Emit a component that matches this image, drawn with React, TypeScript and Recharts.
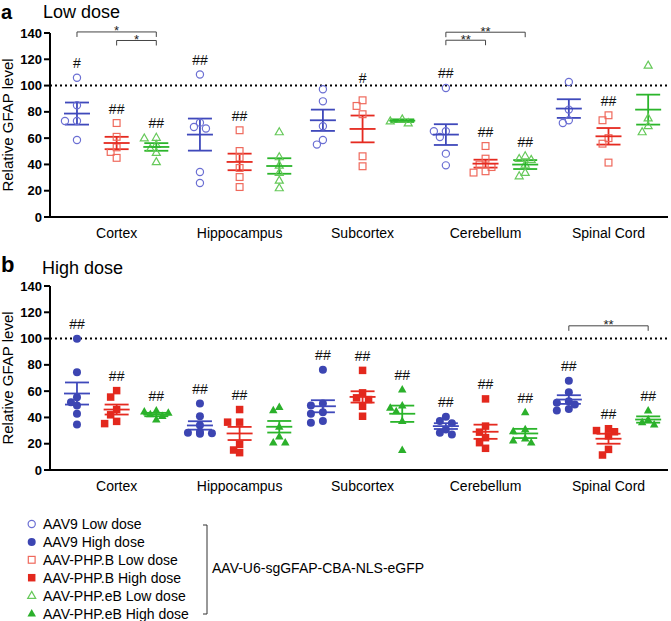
import React from "react";
import { ScatterChart, Scatter, XAxis, YAxis, ReferenceLine, ErrorBar } from "recharts";

const categories = ["Cortex", "Hippocampus", "Subcortex", "Cerebellum", "Spinal Cord"];
const yTicks = [0, 20, 40, 60, 80, 100, 120, 140];

// relative GFAP level per animal, one inner list per region
const aav9Low = [
  [106, 85, 73, 73, 58.6],
  [108.4, 71.8, 68.5, 67.3, 34.2, 25.9],
  [97.2, 88, 69, 58.6, 55.1],
  [98.2, 65.2, 65.2, 60.9, 48.2, 39.3],
  [102.7, 81.7, 73.6, 71.5],
];
const phpBLow = [
  [71.5, 61, 53, 49.5, 45],
  [66, 50.2, 45.2, 37.3, 30.4, 22.8],
  [88.8, 84.5, 78.2, 46.2, 38.6],
  [54, 44.4, 39.9, 38, 34.8, 33.8],
  [77.4, 73.6, 60, 55.8, 41.4],
];
const phpEBLow = [
  [60.5, 60, 55, 52, 49, 42],
  [64.7, 45.7, 39.3, 33.8, 27.9, 22.1],
  [74.5, 73, 71.5],
  [46.4, 44.4, 43.7, 40, 33.8, 31.2],
  [115.4, 75.3, 69.3, 64.7],
];
const aav9High = [
  [99.8, 74.3, 55.3, 51.6, 49, 42.8, 34.6],
  [50.6, 40.9, 34.1, 29, 28.4, 28, 27.5],
  [76.3, 50.6, 49, 44, 42.8, 37.2, 35.9],
  [40.5, 37.2, 35.5, 30.9, 28.4, 27.1],
  [68, 59.1, 52.3, 51.1, 49.8, 46.5, 45.3],
];
const phpBHigh = [
  [60.4, 55.5, 46, 42, 37, 35.3],
  [46, 36.4, 36.4, 19.5, 15.2, 13.2],
  [75.8, 58.7, 54.9, 53.6, 48.5, 40.9],
  [54.1, 33.4, 28.8, 24.6, 20.8, 16.5],
  [31.4, 30, 29.1, 26, 15.7, 11.4],
];
const phpEBHigh = [
  [45.3, 44.5, 43.5, 42.5, 41, 38.5],
  [48, 45.5, 33, 25.5, 21, 21],
  [61.2, 49, 47.3, 44.7, 37.2, 15.2],
  [44, 31, 29.5, 24, 22.5, 21],
  [45.3, 38.4, 36.4, 34.6],
];

// mean and SEM per region
const aav9LowMean = [78.7, 62.7, 73.6, 62.7, 82.5];
const aav9LowSem = [8.4, 12.2, 8.1, 7.9, 7.1];
const phpBLowMean = [56.3, 41.9, 67.0, 40.6, 61.4];
const phpBLowSem = [4.7, 6.3, 10.2, 3.0, 6.3];
const phpEBLowMean = [53.3, 38.8, 73.3, 39.9, 81.7];
const phpEBLowSem = [2.9, 5.9, 1.0, 3.4, 11.4];
const aav9HighMean = [58.2, 33.9, 48.5, 33.4, 53.6];
const aav9HighSem = [8.4, 3.2, 4.6, 2.2, 3.3];
const phpBHighMean = [46.0, 27.8, 55.6, 29.1, 23.8];
const phpBHighSem = [3.8, 5.0, 4.3, 5.4, 3.8];
const phpEBHighMean = [42.2, 32.9, 42.8, 27.8, 38.4];
const phpEBHighSem = [1.3, 4.4, 6.2, 3.5, 2.4];

// significance vs control (#)
const aav9LowSig = ["#", "##", "", "##", ""];
const phpBLowSig = ["##", "##", "#", "##", "##"];
const phpEBLowSig = ["##", "", "", "##", ""];
const aav9HighSig = ["##", "##", "##", "##", "##"];
const phpBHighSig = ["##", "##", "##", "##", "##"];
const phpEBHighSig = ["##", "", "##", "##", "##"];

// between-vector comparisons (*)
const lowBrackets = [
  { region: 0, from: 0, to: 2, y: 140.8, text: "*" },
  { region: 0, from: 1, to: 2, y: 134.3, text: "*" },
  { region: 3, from: 0, to: 2, y: 140.6, text: "**" },
  { region: 3, from: 0, to: 1, y: 134.5, text: "**" },
];
const highBrackets = [{ region: 4, from: 0, to: 2, y: 109.7, text: "**" }];

const legendNames = [
  "AAV9 Low dose",
  "AAV9 High dose",
  "AAV-PHP.B Low dose",
  "AAV-PHP.B High dose",
  "AAV-PHP.eB Low dose",
  "AAV-PHP.eB High dose",
];
const constructName = "AAV-U6-sgGFAP-CBA-NLS-eGFP";

const W = 671;
const CHART_H = 247;
const TOP = 33;
const XAXIS_H = 30;
const YAXIS_W = 50;
const RIGHT = 3;
const PLOT_W = W - YAXIS_W - RIGHT;
const PLOT_H = CHART_H - TOP - XAXIS_H;
const X_DOMAIN = [-0.68, 14.9];
const GROUP_STEP = 3.1;
const X_PX = PLOT_W / (X_DOMAIN[1] - X_DOMAIN[0]);
const Y_PX = PLOT_H / 140;
const catTicks = categories.map((_, i) => i * GROUP_STEP + 1);

const vectorStyles = [
  { kind: "circle", low: "#6b6fd3", high: "#3c45b2", line: "#3f49bb" },
  { kind: "square", low: "#ef695c", high: "#e3281d", line: "#e52a20" },
  { kind: "triangle", low: "#66c95a", high: "#2bb02b", line: "#2bb52b" },
];

function Marker({ cx, cy, kind, color, filled }: any) {
  const fill = filled ? color : "none";
  const sw = filled ? 0 : 1.2;
  if (kind === "circle")
    return <circle cx={cx} cy={cy} r={filled ? 4 : 3.6} fill={fill} stroke={color} strokeWidth={sw} />;
  if (kind === "square") {
    const s = filled ? 7.5 : 6.8;
    return <rect x={cx - s / 2} y={cy - s / 2} width={s} height={s} fill={fill} stroke={color} strokeWidth={sw} />;
  }
  const h = filled ? 7.5 : 7;
  const w = filled ? 8.5 : 8;
  return (
    <path
      d={`M${cx},${cy - h * 0.6}L${cx + w / 2},${cy + h * 0.4}L${cx - w / 2},${cy + h * 0.4}Z`}
      fill={fill}
      stroke={color}
      strokeWidth={sw}
    />
  );
}

// dot-plot layout: a point that would sit on top of another is nudged sideways
function swarm(values: number[], center: number) {
  const sorted = [...values].sort((a, b) => b - a);
  const placed: { dx: number; py: number }[] = [];
  return sorted.map((v) => {
    const py = v * Y_PX;
    let dx = 0;
    for (let k = 0; k < 7; k++) {
      const cand = (k % 2 ? -1 : 1) * Math.ceil(k / 2) * 6;
      if (placed.every((p) => Math.hypot(p.dx - cand, p.py - py) >= 6.5)) {
        dx = cand;
        break;
      }
    }
    placed.push({ dx, py });
    return { x: center + dx / X_PX, y: v };
  });
}

const meanShape = (color: string) => (p: any) =>
  <line x1={p.cx - 13} x2={p.cx + 13} y1={p.cy} y2={p.cy} stroke={color} strokeWidth={1.8} />;

const markShape = (p: any) => (
  <text x={p.cx} y={p.cy + 5} textAnchor="middle" fontSize={14} fill="#111">
    {p.payload.text}
  </text>
);

const bracketShape = (text: string) => (p: any) => (
  <g>
    <path
      d={`M${p.x1},${p.y1 + 5}V${p.y1}H${p.x2}V${p.y2 + 5}`}
      fill="none"
      stroke="#444"
      strokeWidth={1}
    />
    <text x={(p.x1 + p.x2) / 2} y={p.y1 + 3.5} textAnchor="middle" fontSize={13} fill="#222">
      {text}
    </text>
  </g>
);

function Panel({ sets, filled, brackets }: any) {
  const marks: any[] = [];
  sets.forEach((set: any, v: number) => {
    set.sig.forEach((text: string, r: number) => {
      if (!text) return;
      let y = Math.max(...set.values[r]) + 11;
      if (Math.abs(y - 100) < 5) y = 106;
      marks.push({ x: r * GROUP_STEP + v, y, text });
    });
  });

  return (
    <ScatterChart width={W} height={CHART_H} margin={{ top: TOP, right: RIGHT, bottom: 0, left: 0 }}>
      <XAxis
        type="number"
        dataKey="x"
        domain={X_DOMAIN}
        ticks={catTicks}
        interval={0}
        tickFormatter={(t: number) => categories[Math.round((t - 1) / GROUP_STEP)]}
        axisLine={{ stroke: "#000", strokeWidth: 2 }}
        tickLine={false}
        tickSize={0}
        tickMargin={11}
        height={XAXIS_H}
        tick={{ fontSize: 14, fill: "#000" }}
      />
      <YAxis
        type="number"
        dataKey="y"
        domain={[0, 140]}
        ticks={yTicks}
        interval={0}
        width={YAXIS_W}
        axisLine={{ stroke: "#000", strokeWidth: 2 }}
        tickLine={{ stroke: "#000", strokeWidth: 2 }}
        tickSize={6}
        tickMargin={2}
        tick={{ fontSize: 13, fontWeight: 700, fill: "#000" }}
      />
      <ReferenceLine y={100} stroke="#000" strokeWidth={2} strokeDasharray="2 3" />
      {sets.map((set: any, v: number) => {
        const st = vectorStyles[v];
        const color = filled ? st.high : st.low;
        return (
          <Scatter
            key={"p" + v}
            data={set.values.flatMap((vals: number[], r: number) => swarm(vals, r * GROUP_STEP + v))}
            isAnimationActive={false}
            shape={(p: any) => <Marker cx={p.cx} cy={p.cy} kind={st.kind} color={color} filled={filled} />}
          />
        );
      })}
      {sets.map((set: any, v: number) => {
        const st = vectorStyles[v];
        const data = set.mean.map((m: number, r: number) => ({ x: r * GROUP_STEP + v, y: m, sem: set.sem[r] }));
        return (
          <Scatter key={"m" + v} data={data} isAnimationActive={false} shape={meanShape(st.line)}>
            <ErrorBar dataKey="sem" direction="y" width={12} stroke={st.line} strokeWidth={1.8} isAnimationActive={false} />
          </Scatter>
        );
      })}
      <Scatter data={marks} isAnimationActive={false} shape={markShape} />
      {brackets.map((b: any, i: number) => (
        <ReferenceLine
          key={"b" + i}
          ifOverflow="visible"
          segment={[
            { x: b.region * GROUP_STEP + b.from, y: b.y },
            { x: b.region * GROUP_STEP + b.to, y: b.y },
          ]}
          shape={bracketShape(b.text)}
        />
      ))}
    </ScatterChart>
  );
}

const lowSets = [
  { values: aav9Low, mean: aav9LowMean, sem: aav9LowSem, sig: aav9LowSig },
  { values: phpBLow, mean: phpBLowMean, sem: phpBLowSem, sig: phpBLowSig },
  { values: phpEBLow, mean: phpEBLowMean, sem: phpEBLowSem, sig: phpEBLowSig },
];
const highSets = [
  { values: aav9High, mean: aav9HighMean, sem: aav9HighSem, sig: aav9HighSig },
  { values: phpBHigh, mean: phpBHighMean, sem: phpBHighSem, sig: phpBHighSig },
  { values: phpEBHigh, mean: phpEBHighMean, sem: phpEBHighSem, sig: phpEBHighSig },
];

export default function App() {
  const panelB = 253;
  return (
    <div
      style={{
        position: "absolute",
        left: 0,
        top: 0,
        width: W,
        height: 621,
        background: "#fff",
        fontFamily: "Arial, 'Liberation Sans', sans-serif",
      }}
    >
      <div style={{ position: "absolute", left: 0, top: 0 }}>
        <Panel sets={lowSets} filled={false} brackets={lowBrackets} />
      </div>
      <div style={{ position: "absolute", left: 0, top: panelB }}>
        <Panel sets={highSets} filled={true} brackets={highBrackets} />
      </div>
      <svg
        width={W}
        height={621}
        style={{ position: "absolute", left: 0, top: 0, pointerEvents: "none" }}
      >
        <text x={1} y={19} fontSize={20} fontWeight={700}>a</text>
        <text x={43} y={18} fontSize={18}>Low dose</text>
        <text x={1} y={272} fontSize={22} fontWeight={700}>b</text>
        <text x={42} y={274} fontSize={18}>High dose</text>
        <text transform={`translate(13,${TOP + PLOT_H / 2}) rotate(-90)`} textAnchor="middle" fontSize={15}>
          Relative GFAP level
        </text>
        <text
          transform={`translate(13,${panelB + TOP + PLOT_H / 2}) rotate(-90)`}
          textAnchor="middle"
          fontSize={15}
        >
          Relative GFAP level
        </text>
        {legendNames.map((name, i) => {
          const st = vectorStyles[Math.floor(i / 2)];
          const high = i % 2 === 1;
          const y = 524 + i * 17.9;
          return (
            <g key={name}>
              <Marker cx={31.7} cy={y} kind={st.kind} color={high ? st.high : st.low} filled={high} />
              <text x={43} y={y + 5} fontSize={14}>{name}</text>
            </g>
          );
        })}
        <path d="M203,525H207V614H203" fill="none" stroke="#333" strokeWidth={1} />
        <text x={212} y={573} fontSize={14}>{constructName}</text>
      </svg>
    </div>
  );
}
